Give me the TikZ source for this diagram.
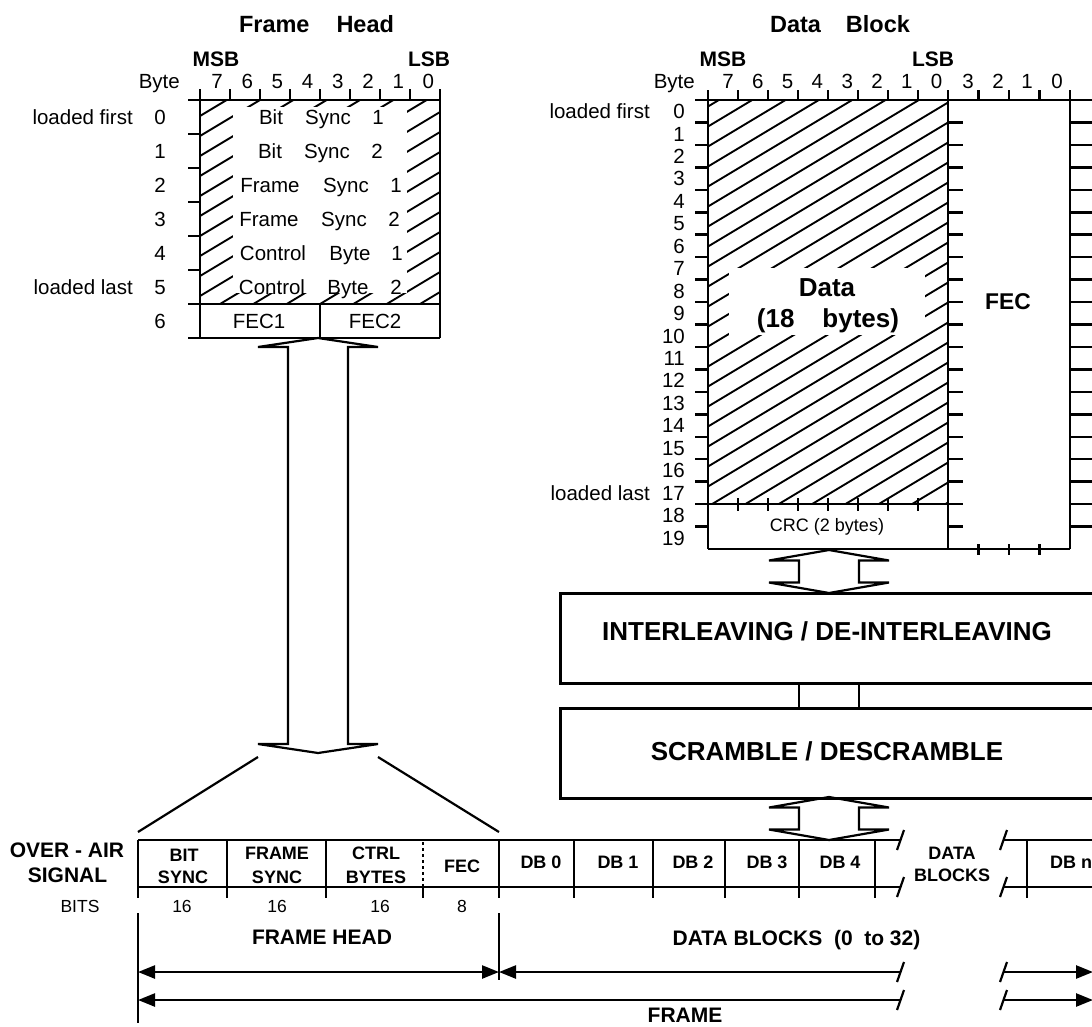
\documentclass[tikz,border=0pt]{standalone}
\usepackage{fontspec}
\setmainfont{Liberation Sans}
\usetikzlibrary{arrows.meta}
\newcommand{\fatarrow}[4]{%
  \draw[fatln] (#1,#2) -- ({#1+60},{#2+#4}) -- ({#1+30},{#2+#4}) -- ({#1+30},{#3-#4}) -- ({#1+60},{#3-#4}) -- (#1,#3) -- ({#1-60},{#3-#4}) -- ({#1-30},{#3-#4}) -- ({#1-30},{#2+#4}) -- ({#1-60},{#2+#4}) -- cycle;}
\tikzset{
  ln/.style={line width=2.5pt},
  hatchln/.style={line width=1.9pt},
  fatln/.style={line width=2.2pt, line join=miter},
  boxn/.style={draw, line width=2.5pt, inner sep=0pt},
  rtxt/.style={font=\fontsize{20.5}{24}\selectfont, inner sep=0pt, text height=14.7pt, text depth=0pt},
  ttl/.style={font=\bfseries\fontsize{23.5}{28}\selectfont, inner sep=0pt, text height=16.8pt, text depth=0pt},
  bigb/.style={font=\bfseries\fontsize{26}{30}\selectfont, inner sep=0pt, text height=18.6pt, text depth=0pt},
  fecb/.style={font=\bfseries\fontsize{22.8}{27}\selectfont, inner sep=0pt, text height=16.3pt, text depth=0pt},
  crct/.style={font=\fontsize{18}{21}\selectfont, inner sep=0pt, text height=12.9pt, text depth=0pt},
  cellb/.style={font=\bfseries\fontsize{18}{21}\selectfont, inner sep=0pt, text height=12.9pt, text depth=0pt},
  sigb/.style={font=\bfseries\fontsize{21}{25}\selectfont, inner sep=0pt, text height=15pt, text depth=0pt},
  bitr/.style={font=\fontsize{17.5}{21}\selectfont, inner sep=0pt, text height=12.5pt, text depth=0pt},
  tip/.style={ln, arrows={-{Triangle[length=17pt,width=13pt]}}},
  tipl/.style={ln, arrows={{Triangle[length=17pt,width=13pt]}-}},
  tipb/.style={ln, arrows={{Triangle[length=17pt,width=13pt]}-{Triangle[length=17pt,width=13pt]}}}
}
\begin{document}
\begin{tikzpicture}[x=1pt,y=-1pt]
\useasboundingbox (0,0) rectangle (1092,1026);
\fill[white] (0,0) rectangle (1092,1026);
\clip (0,0) rectangle (1092,1026);

% ================= FRAME HEAD =================
\begin{scope}
  \clip (200,100) rectangle (440,304);
  \foreach \k in {0,...,17} {\draw[hatchln] (200,{116+20*\k}) -- (440,{116+20*\k-144});}
\end{scope}
\fill[white] (233,107) rectangle (407,293);

\draw[ln] (188,100) -- (440,100);
\draw[ln] (188,304) -- (440,304);
\draw[ln] (188,338) -- (440,338);
\draw[ln] (200,89) -- (200,338);
\draw[ln] (440,89) -- (440,338);
\foreach \k in {1,...,5} {\draw[ln] (188,{100+34*\k}) -- (200,{100+34*\k});}
\foreach \k in {1,...,7} {\draw[ln] ({200+30*\k},89) -- ({200+30*\k},100);}
\draw[ln] (320,304) -- (320,338);

\node[ttl] (fhtitle) at (316.5,24) {Frame\hspace{27pt}Head};
\node[sigb] (fhmsb) at (216,58.5) {MSB};
\node[sigb] (fhlsb) at (429,58.5) {LSB};
\node[rtxt,anchor=east] (fhbyte) at (180,81) {Byte};
\foreach \b [count=\i from 0] in {7,...,0} {\node[rtxt] (fhbit\b) at ({217+30.2*\i},81) {\b};}
\foreach \k in {0,...,6} {\node[rtxt] (fhrow\k) at (160,{117+34*\k}) {\k};}
\node[rtxt,anchor=east] (fhfirst) at (133,117) {loaded first};
\node[rtxt,anchor=east] (fhlast) at (133,287) {loaded last};

\node[rtxt] (r0a) at (271,117) {Bit};
\node[rtxt] (r0b) at (328,117) {Sync};
\node[rtxt] (r0c) at (378,117) {1};
\node[rtxt] (r1a) at (270,151) {Bit};
\node[rtxt] (r1b) at (327,151) {Sync};
\node[rtxt] (r1c) at (377,151) {2};
\node[rtxt] (r2a) at (270,185) {Frame};
\node[rtxt] (r2b) at (346,185) {Sync};
\node[rtxt] (r2c) at (396,185) {1};
\node[rtxt] (r3a) at (269,219) {Frame};
\node[rtxt] (r3b) at (344,219) {Sync};
\node[rtxt] (r3c) at (394,219) {2};
\node[rtxt] (r4a) at (273,253) {Control};
\node[rtxt] (r4b) at (350,253) {Byte};
\node[rtxt] (r4c) at (397,253) {1};
\node[rtxt] (r5a) at (272,287) {Control};
\node[rtxt] (r5b) at (348,287) {Byte};
\node[rtxt] (r5c) at (396,287) {2};
\node[rtxt] (fec1) at (259,321) {FEC1};
\node[rtxt] (fec2) at (375,321) {FEC2};

% ================= DATA BLOCK =================
\begin{scope}
  \clip (708,100) rectangle (948,504.1);
  \foreach \k in {0,...,27} {\draw[hatchln] (708,{106.5+20*\k}) -- (948,{106.5+20*\k-144});}
\end{scope}
\fill[white] (729,268) rectangle (925,335);

\draw[ln] (695,100) -- (1096,100);
\draw[ln] (708,90) -- (708,549);
\draw[ln] (948,90) -- (948,549);
\draw[ln] (1070,90) -- (1070,549);
\draw[ln] (708,549) -- (1070,549);
\draw[ln] (695,504.1) -- (948,504.1);
\foreach \k in {1,...,19} {
  \draw[ln] (695,{100+22.45*\k}) -- (708,{100+22.45*\k});
  \draw[ln] (948,{100+22.45*\k}) -- (963,{100+22.45*\k});
  \draw[ln] (1070,{100+22.45*\k}) -- (1096,{100+22.45*\k});
}
\foreach \x in {738,768,...,918} {
  \draw[ln] (\x,90) -- (\x,100);
  \draw[ln] (\x,498) -- (\x,511);
}
\foreach \x in {978.5,1009,1039.5} {
  \draw[ln] (\x,90) -- (\x,100);
  \draw[ln] (\x,544) -- (\x,555);
}

\node[ttl] (dbtitle) at (840,24) {Data\hspace{25pt}Block};
\node[sigb] (dbmsb) at (723,58.5) {MSB};
\node[sigb] (dblsb) at (933,58.5) {LSB};
\node[rtxt,anchor=east] (dbbyte) at (695,81) {Byte};
\foreach \b [count=\i from 0] in {7,...,0} {\node[rtxt] (dbbit\b) at ({728+29.8*\i},81) {\b};}
\node[rtxt] (fbit3) at (968,81) {3};
\node[rtxt] (fbit2) at (998,81) {2};
\node[rtxt] (fbit1) at (1027,81) {1};
\node[rtxt] (fbit0) at (1057,81) {0};
\foreach \k in {0,...,19} {\node[rtxt,anchor=east] (dbrow\k) at (685,{111.2+22.45*\k}) {\k};}
\node[rtxt,anchor=east] (dbfirst) at (650,111.2) {loaded first};
\node[rtxt,anchor=east] (dblast) at (650,492.9) {loaded last};
\node[bigb] (datat) at (827,287) {Data};
\node[bigb] (datab) at (828,318) {(18\hspace{28pt}bytes)};
\node[fecb] (fect) at (1008,301.5) {FEC};
\node[crct] (crct) at (827,525) {CRC (2 bytes)};

% ================= PROCESS BOXES =================
\node[boxn, minimum width=560pt, minimum height=90pt, anchor=north west] (inter) at (559,592) {};
\node[bigb] (intert) at (827,631.5) {INTERLEAVING / DE-INTERLEAVING};
\node[boxn, minimum width=560pt, minimum height=90pt, anchor=north west] (scram) at (559,707) {};
\node[bigb] (scramt) at (827,751) {SCRAMBLE / DESCRAMBLE};
\draw[ln] (799,682) -- (799,707);
\draw[ln] (859,682) -- (859,707);

% ================= FAT ARROWS =================
\fatarrow{318}{338}{753}{9}
\fatarrow{829}{550}{593}{10.5}
\fatarrow{829}{797}{840}{10.5}
\draw[fatln] (258,757) -- (138,832);
\draw[fatln] (378,757) -- (499,832);

% ================= SIGNAL ROW =================
\draw[ln] (138,840) -- (900,840);
\draw[ln] (138,887) -- (900,887);
\draw[ln] (1003,840) -- (1100,840);
\draw[ln] (1003,887) -- (1100,887);
\foreach \x in {138,227,326,499,574,653,725,799,875,1027} {\draw[ln] (\x,840) -- (\x,887);}
\draw[line width=1.6pt, dash pattern=on 3pt off 3pt] (423,842) -- (423,886);
\foreach \x in {138,227,326,423,499,574,653,725,799,875,1027} {\draw[ln] (\x,887) -- (\x,898);}
\foreach \x in {900.5,1003.5} {
  \foreach \y in {840,887,972,1000} {\draw[fatln] ({\x-3.5},{\y+10}) -- ({\x+3.5},{\y-10});}
}
\draw[ln] (138,913) -- (138,1023);
\draw[ln] (499,913) -- (499,980);
\draw[tipb] (138,972) -- (499,972);
\draw[tipl] (499,972) -- (900,972);
\draw[tip] (1003,972) -- (1093,972);
\draw[tipl] (138,1000) -- (900,1000);
\draw[tip] (1003,1000) -- (1093,1000);

\node[sigb] (over) at (67,850) {OVER - AIR};
\node[sigb] (signal) at (67.5,875) {SIGNAL};
\node[bitr] (bits) at (80,906) {BITS};
\node[cellb] (bs1) at (184,855) {BIT};
\node[cellb] (bs2) at (183,877.5) {SYNC};
\node[cellb] (fs1) at (277,853) {FRAME};
\node[cellb] (fs2) at (277,877.5) {SYNC};
\node[cellb] (cb1) at (376,853) {CTRL};
\node[cellb] (cb2) at (376,877.5) {BYTES};
\node[cellb] (fecs) at (462,866) {FEC};
\node[cellb] (db0) at (541,862.5) {DB 0};
\node[cellb] (db1) at (618,862.5) {DB 1};
\node[cellb] (db2) at (693,862.5) {DB 2};
\node[cellb] (db3) at (767,862.5) {DB 3};
\node[cellb] (db4) at (840,862.5) {DB 4};
\node[cellb] (dab1) at (952,853) {DATA};
\node[cellb] (dab2) at (952,875) {BLOCKS};
\node[cellb,anchor=west] (dbn) at (1050,862.5) {DB n};
\node[bitr] (b16a) at (182,906) {16};
\node[bitr] (b16b) at (277,906) {16};
\node[bitr] (b16c) at (380,906) {16};
\node[bitr] (b8) at (462,906) {8};
\node[sigb] (fhead) at (322,937) {FRAME HEAD};
\node[sigb] (dbl) at (796.5,937.5) {DATA BLOCKS\ \ (0\ \ to 32)};
\node[sigb] (frame) at (685,1014.5) {FRAME};
\end{tikzpicture}
\end{document}
